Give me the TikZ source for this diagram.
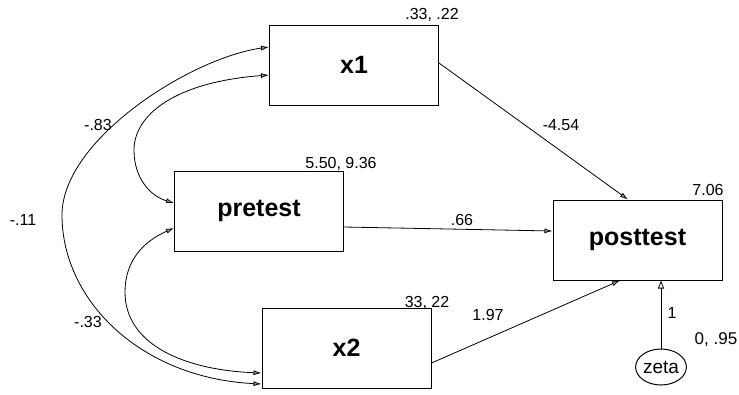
\documentclass[tikz,border=0pt]{standalone}
\usepackage{fontspec}
\setmainfont{Liberation Sans}
\usepackage{tikz}
\usetikzlibrary{shapes.geometric,arrows.meta}

\begin{document}
\begin{tikzpicture}[
  x=1pt, y=-1pt,
  font=\fontsize{16}{18}\selectfont,
  var/.style={draw,line width=1pt,minimum width=169pt,minimum height=80pt,inner sep=0pt,font=\fontsize{25}{28}\selectfont\bfseries},
  err/.style={draw,ellipse,line width=1pt,minimum width=44pt,minimum height=36pt,inner sep=0pt,font=\fontsize{19}{22}\selectfont},
  arrow/.style={-{Latex[length=8pt,width=5pt,fill=gray!70]},line width=0.8pt},
  cov/.style={{Latex[length=8pt,width=5pt,fill=gray!70]}-{Latex[length=8pt,width=5pt,fill=gray!70]},line width=0.8pt},
  num/.style={inner sep=0pt},
]
\useasboundingbox (0,0) rectangle (739,394);
\node[var] (x1) at (354,65) {x1};
\node[var] (pre) at (259,211) {pretest};
\node[var] (x2) at (346.5,348) {x2};
\node[var] (post) at (637.5,240) {posttest};
\node[err] (zeta) at (661,367) {zeta};
% variances
\node[num] (vx1) at (432,15) {.33, .22};
\node[num] (vpre) at (341,164) {5.50, 9.36};
\node[num] (vx2) at (427,303) {33, 22};
\node[num] (vpost) at (708,190) {7.06};
\node[num,font=\fontsize{17}{19}\selectfont] (vzeta) at (716,340) {0, .95};
% paths
\draw[arrow] ([yshift=2pt]x1.east) -- ([xshift=-9.5pt]post.north);
\draw[arrow] ([yshift=-16pt]pre.east) -- ([yshift=9pt]post.west);
\draw[arrow] ([yshift=-15pt]x2.east) -- ([xshift=-17.5pt]post.south);
\draw[-{Triangle[open,length=8pt,width=6pt]},line width=0.8pt] (zeta.north) -- (zeta |- post.south);
\node[num] (bx1) at (561,125) {-4.54};
\node[num] (bpre) at (462,220) {.66};
\node[num] (bx2) at (488,315) {1.97};
\node[num] (bzeta) at (672,313) {1};
% covariances
\draw[cov] ([yshift=18pt]x1.west) .. controls (190,58) and (62,140) .. (62,215)
  .. controls (62,300) and (140,378) .. ([yshift=-36pt]x2.west);
\draw[cov] ([yshift=-10pt]x1.west) .. controls (175,82) and (134,115) .. (134,150)
  .. controls (134,178) and (150,196) .. ([yshift=8pt]pre.west);
\draw[cov] ([yshift=-17pt]pre.west) .. controls (142,242) and (125,262) .. (125,292)
  .. controls (125,345) and (185,370) .. ([yshift=-25pt]x2.west);
\node[num] (cx1pre) at (98,125) {-.83};
\node[num] (cx1x2) at (23,220) {-.11};
\node[num] (cprex2) at (88,322) {-.33};
\end{tikzpicture}
\end{document}
